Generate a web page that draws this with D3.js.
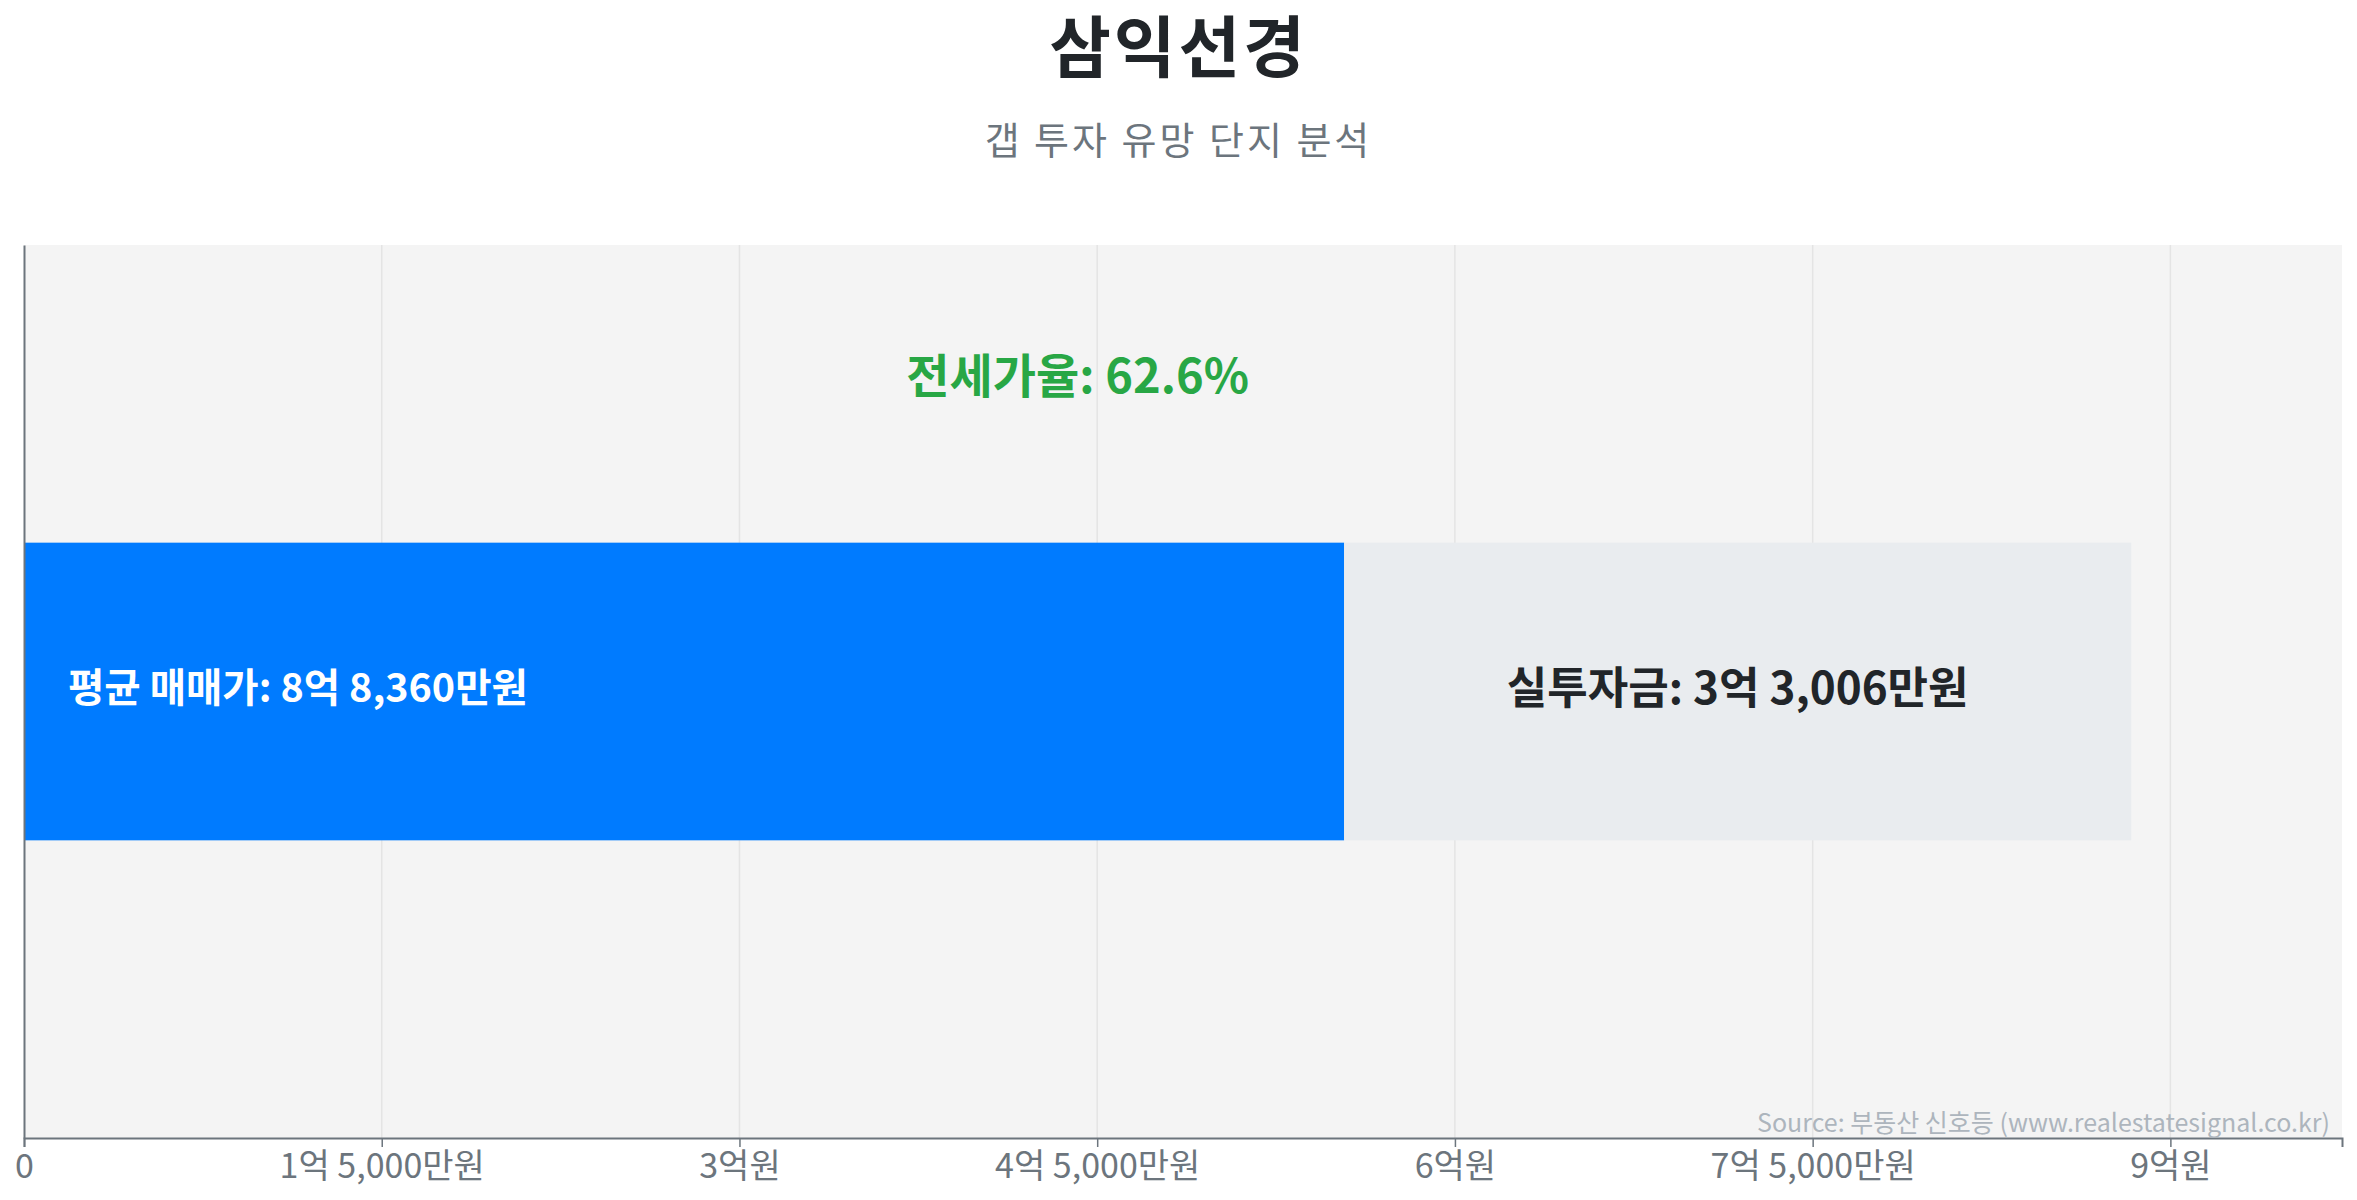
<!DOCTYPE html>
<html><head><meta charset="utf-8">
<script src="https://cdn.jsdelivr.net/npm/d3@7"></script>
<style>
html,body{margin:0;padding:0;background:#fff;}
#wrap{position:relative;width:2357px;height:1200px;}
#title{position:absolute;left:0;top:9px;width:2357px;text-align:center;font-family:"Noto Sans CJK KR","Noto Sans",sans-serif;
  font-size:67px;line-height:67px;font-weight:700;letter-spacing:3px;color:#212529;}
svg{display:block;font-family:"Noto Sans CJK KR","Noto Sans",sans-serif;}
</style></head>
<body>
<div id="wrap"><svg id="chart" width="2357" height="1200"></svg></div>
<script>
const titleText = "삼익선경";
const subtitleText = "갭 투자 유망 단지 분석";
const sourceText = "Source: 부동산 신호등 (www.realestatesignal.co.kr)";
const categories = ["삼익선경"];
const salePrice = [88360];     // 만원
const investment = [33006];    // 만원
const jeonseRatio = [62.6];    // %
const tickValues = [0, 15000, 30000, 45000, 60000, 75000, 90000];
const tickLabels = ["0", "1억 5,000만원", "3억원", "4억 5,000만원", "6억원", "7억 5,000만원", "9억원"];

function fmtWon(v){
  const eok = Math.floor(v/10000), man = v % 10000;
  let s = "";
  if (eok) s += eok + "억";
  if (man) s += (s ? " " : "") + d3.format(",")(man) + "만원";
  else s += "원";
  return s;
}

const W = 2357, H = 1200;
const margin = {top:245, right:15, bottom:62, left:24};
const iw = W - margin.left - margin.right, ih = H - margin.top - margin.bottom;
const svg = d3.select("#chart");

d3.select("#wrap").append("div").attr("id","title").text(titleText);
svg.append("text").attr("x", W/2).attr("y", 137).attr("text-anchor","middle")
  .attr("dominant-baseline","central").attr("font-size",38)
  .attr("fill","#6c757d").attr("letter-spacing","3px").text(subtitleText);

const g = svg.append("g").attr("transform",`translate(${margin.left},${margin.top})`);
const x = d3.scaleLinear().domain([0, d3.max(salePrice)*1.1]).range([0, iw]);
const y = d3.scaleBand().domain(categories).range([0, ih]).padding(0.5);

g.append("rect").attr("width", iw).attr("height", ih).attr("fill","#f4f4f4");
g.selectAll(".grid").data(tickValues.slice(1)).join("line")
  .attr("x1", d=>x(d)).attr("x2", d=>x(d)).attr("y1",0).attr("y2",ih)
  .attr("stroke","#e4e4e4").attr("stroke-width",1.5);

const rows = categories.map((c,i)=>({c, sale:salePrice[i], inv:investment[i], jeonse:salePrice[i]-investment[i], ratio:jeonseRatio[i]}));

g.selectAll(".jeonse").data(rows).join("rect")
  .attr("x", 0).attr("y", d=>y(d.c)).attr("width", d=>x(d.jeonse)).attr("height", y.bandwidth())
  .attr("fill","#007bff");
g.selectAll(".inv").data(rows).join("rect")
  .attr("x", d=>x(d.jeonse)).attr("y", d=>y(d.c)).attr("width", d=>x(d.sale)-x(d.jeonse)).attr("height", y.bandwidth())
  .attr("fill","#e9ecef");

g.selectAll(".lblSale").data(rows).join("text")
  .attr("x", 44).attr("y", d=>y(d.c)+y.bandwidth()/2 - 7).attr("dominant-baseline","central")
  .attr("font-size",39.5).attr("font-weight",700).attr("fill","#fff")
  .text(d=>"평균 매매가: " + fmtWon(d.sale));
g.selectAll(".lblInv").data(rows).join("text")
  .attr("x", d=>(x(d.jeonse)+x(d.sale))/2).attr("y", d=>y(d.c)+y.bandwidth()/2 - 7)
  .attr("text-anchor","middle").attr("dominant-baseline","central")
  .attr("font-size",44).attr("font-weight",700).attr("fill","#212529")
  .text(d=>"실투자금: " + fmtWon(d.inv));
g.selectAll(".lblRatio").data(rows).join("text")
  .attr("x", d=>x(d.sale)/2).attr("y", d=>y(d.c)/2 - 21)
  .attr("text-anchor","middle").attr("dominant-baseline","central")
  .attr("font-size",47).attr("font-weight",700).attr("fill","#28a745")
  .text(d=>"전세가율: " + d.ratio.toFixed(1) + "%");

const xAxis = g.append("g").attr("transform",`translate(0,${ih})`)
  .call(d3.axisBottom(x).tickValues(tickValues).tickFormat((d,i)=>tickLabels[i]).tickSize(9).tickPadding(7));
xAxis.select(".domain").attr("stroke","#6c757d").attr("stroke-width",2);
xAxis.selectAll(".tick line").attr("stroke","#6c757d").attr("stroke-width",1.5);
xAxis.selectAll(".tick text").attr("fill","#6c757d").attr("font-size",34)
  .attr("font-family",'"Noto Sans CJK KR","Noto Sans",sans-serif');

const yAxis = g.append("g").call(d3.axisLeft(y).tickSize(0).tickFormat(""));
yAxis.select(".domain").attr("stroke","#6c757d").attr("stroke-width",2);

g.append("text").attr("x", iw-12).attr("y", ih-17).attr("text-anchor","end")
  .attr("dominant-baseline","central").attr("font-size",25).attr("fill","#adb5bd")
  .text(sourceText);
</script>
</body></html>
